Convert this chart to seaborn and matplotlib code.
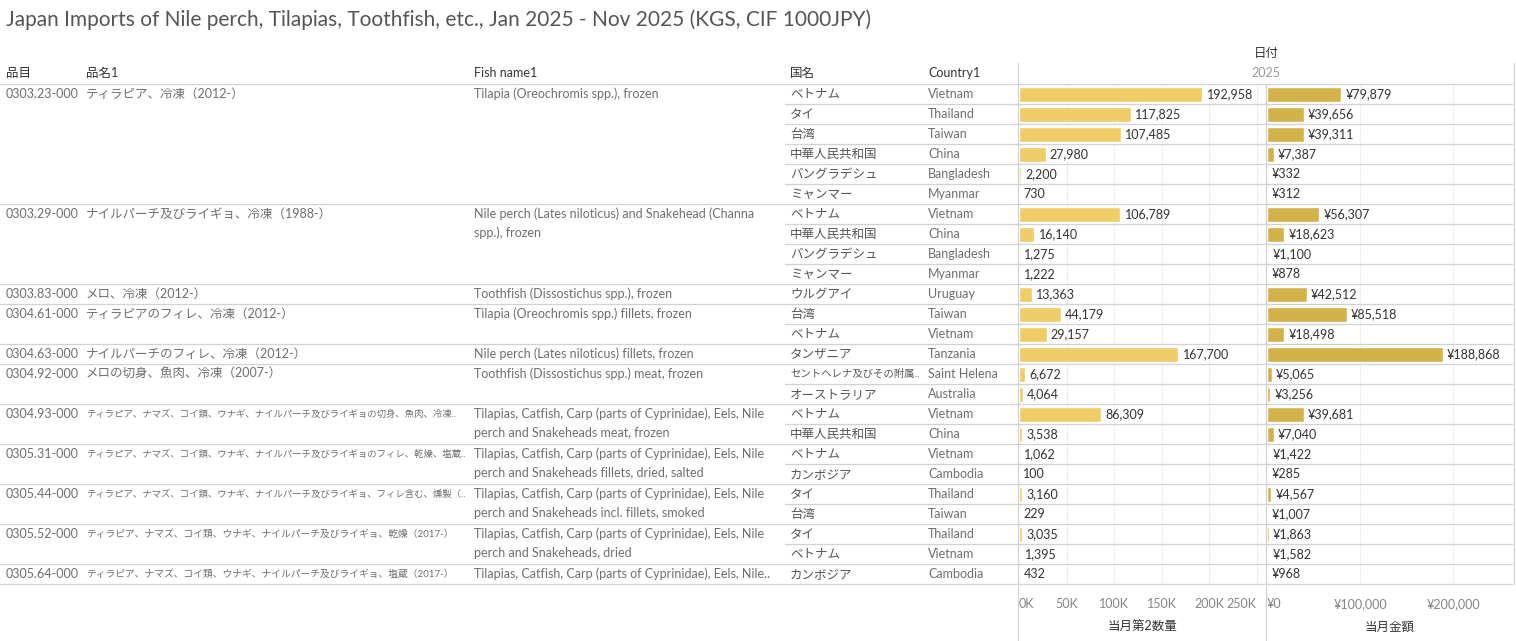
import numpy as np
import pandas as pd
import matplotlib
matplotlib.use("Agg")
import matplotlib.pyplot as plt
import matplotlib.transforms as mtransforms
from matplotlib.lines import Line2D
from matplotlib.ticker import FixedLocator
import seaborn as sns

# --- data -------------------------------------------------------------
hs_codes = ["0303.23-000", "0303.29-000", "0303.83-000", "0304.61-000",
            "0304.63-000", "0304.92-000", "0304.93-000", "0305.31-000",
            "0305.44-000", "0305.52-000", "0305.64-000"]
names_jp = [
    "ティラピア、冷凍（2012-）",
    "ナイルパーチ及びライギョ、冷凍（1988-）",
    "メロ、冷凍（2012-）",
    "ティラピアのフィレ、冷凍（2012-）",
    "ナイルパーチのフィレ、冷凍（2012-）",
    "メロの切身、魚肉、冷凍（2007-）",
    "ティラピア、ナマズ、コイ類、ウナギ、ナイルパーチ及びライギョの切身、魚肉、冷凍..",
    "ティラピア、ナマズ、コイ類、ウナギ、ナイルパーチ及びライギョのフィレ、乾燥、塩蔵..",
    "ティラピア、ナマズ、コイ類、ウナギ、ナイルパーチ及びライギョ、フィレ含む、燻製（..",
    "ティラピア、ナマズ、コイ類、ウナギ、ナイルパーチ及びライギョ、乾燥（2017-）",
    "ティラピア、ナマズ、コイ類、ウナギ、ナイルパーチ及びライギョ、塩蔵（2017-）",
]
names_en = [
    ["Tilapia (Oreochromis spp.), frozen"],
    ["Nile perch (Lates niloticus) and Snakehead (Channa", "spp.), frozen"],
    ["Toothfish (Dissostichus spp.), frozen"],
    ["Tilapia (Oreochromis spp.) fillets, frozen"],
    ["Nile perch (Lates niloticus) fillets, frozen"],
    ["Toothfish (Dissostichus spp.) meat, frozen"],
    ["Tilapias, Catfish, Carp (parts of Cyprinidae), Eels, Nile",
     "perch and Snakeheads meat, frozen"],
    ["Tilapias, Catfish, Carp (parts of Cyprinidae), Eels, Nile",
     "perch and Snakeheads fillets, dried, salted"],
    ["Tilapias, Catfish, Carp (parts of Cyprinidae), Eels, Nile",
     "perch and Snakeheads incl. fillets, smoked"],
    ["Tilapias, Catfish, Carp (parts of Cyprinidae), Eels, Nile",
     "perch and Snakeheads, dried"],
    ["Tilapias, Catfish, Carp (parts of Cyprinidae), Eels, Nile.."],
]

row_codes = ["0303.23-000"] * 6 + ["0303.29-000"] * 4 + ["0303.83-000"] \
    + ["0304.61-000"] * 2 + ["0304.63-000"] + ["0304.92-000"] * 2 \
    + ["0304.93-000"] * 2 + ["0305.31-000"] * 2 + ["0305.44-000"] * 2 \
    + ["0305.52-000"] * 2 + ["0305.64-000"]
countries_jp = ["ベトナム", "タイ", "台湾", "中華人民共和国", "バングラデシュ", "ミャンマー",
                "ベトナム", "中華人民共和国", "バングラデシュ", "ミャンマー",
                "ウルグアイ",
                "台湾", "ベトナム",
                "タンザニア",
                "セントヘレナ及びその附属..", "オーストラリア",
                "ベトナム", "中華人民共和国",
                "ベトナム", "カンボジア",
                "タイ", "台湾",
                "タイ", "ベトナム",
                "カンボジア"]
countries_en = ["Vietnam", "Thailand", "Taiwan", "China", "Bangladesh", "Myanmar",
                "Vietnam", "China", "Bangladesh", "Myanmar",
                "Uruguay",
                "Taiwan", "Vietnam",
                "Tanzania",
                "Saint Helena", "Australia",
                "Vietnam", "China",
                "Vietnam", "Cambodia",
                "Thailand", "Taiwan",
                "Thailand", "Vietnam",
                "Cambodia"]
qty = [192958, 117825, 107485, 27980, 2200, 730,
       106789, 16140, 1275, 1222,
       13363,
       44179, 29157,
       167700,
       6672, 4064,
       86309, 3538,
       1062, 100,
       3160, 229,
       3035, 1395,
       432]
value = [79879, 39656, 39311, 7387, 332, 312,
         56307, 18623, 1100, 878,
         42512,
         85518, 18498,
         188868,
         5065, 3256,
         39681, 7040,
         1422, 285,
         4567, 1007,
         1863, 1582,
         968]

qty_ticks = [0, 50000, 100000, 150000, 200000, 250000]
qty_ticklabels = ["0K", "50K", "100K", "150K", "200K", "250K"]
value_ticks = [0, 100000, 200000]
value_ticklabels = ["¥0", "¥100,000", "¥200,000"]

df = pd.DataFrame({"row": range(len(qty)), "code": row_codes,
                   "country_jp": countries_jp, "country_en": countries_en,
                   "qty": qty, "value": value})

# --- style ------------------------------------------------------------
sns.set_theme(style="white")
plt.rcParams["font.family"] = ["Lato", "Noto Sans CJK JP", "DejaVu Sans"]

BAR1 = "#f1cd67"
BAR2 = "#d4b24a"
HEAD = "#333333"
BODY = "#6e6e6e"
JP_BODY = "#555555"
LINE = "#d2d2d2"
GRID = "#efefef"
FS = 9

W, H = 1516, 641
fig = plt.figure(figsize=(W / 100, H / 100), dpi=100)
fig.patch.set_facecolor("white")
renderer = fig.canvas.get_renderer()

top, bottom = 84, 584
ax1 = fig.add_axes([1019 / W, 1 - bottom / H, 247 / W, (bottom - top) / H])
ax2 = fig.add_axes([1267 / W, 1 - bottom / H, 245 / W, (bottom - top) / H])

n = len(df)
sns.barplot(data=df, x="qty", y="row", orient="h", color=BAR1,
            width=0.75, ax=ax1, saturation=1)
sns.barplot(data=df, x="value", y="row", orient="h", color=BAR2,
            width=0.75, ax=ax2, saturation=1)

ax1.bar_label(ax1.containers[0], labels=[f"{v:,}" for v in df["qty"]],
              padding=3, fontsize=FS, color=HEAD)
ax2.bar_label(ax2.containers[0], labels=[f"¥{v:,}" for v in df["value"]],
              padding=3, fontsize=FS, color=HEAD)

for ax, lim, ticks, labels, title in [
        (ax1, 260000, qty_ticks, qty_ticklabels, "当月第2数量"),
        (ax2, 263000, value_ticks, value_ticklabels, "当月金額")]:
    ax.set_xlim(0, lim)
    ax.set_ylim(n - 0.5, -0.5)
    ax.set_facecolor("none")
    for s in ax.spines.values():
        s.set_visible(False)
    ax.set_yticks([])
    ax.set_ylabel("")
    ax.xaxis.set_major_locator(FixedLocator(ticks))
    ax.set_xticklabels(labels, fontsize=FS, color="#858585")
    ax.tick_params(axis="x", length=0, pad=10)
    ax.grid(axis="x", color=GRID, linewidth=0.8)
    ax.set_axisbelow(True)
    ax.set_xlabel(title, fontsize=FS, color=HEAD, labelpad=8)
    tl = ax.get_xticklabels()
    tl[0].set_ha("left")
    if ax is ax1:
        tl[-1].set_ha("right")

# --- table text -------------------------------------------------------
tr = mtransforms.blended_transform_factory(fig.transFigure, ax1.transData)
col_x = [6 / W, 86 / W, 474 / W, 790 / W, 928 / W]
col_w = [78, 380, 310, 132, 88]


def put(x, y, s, color=BODY, max_px=None, **kw):
    t = fig.text(x, y, s, transform=tr, fontsize=FS, color=color,
                 va="center", ha=kw.pop("ha", "left"), **kw)
    # shrink texts that would run into the next column
    if max_px is not None:
        size = FS
        while t.get_window_extent(renderer).width > max_px and size > 6:
            size -= 0.25
            t.set_fontsize(size)
    return t


for x, h in zip(col_x, ["品目", "品名1", "Fish name1", "国名", "Country1"]):
    put(x, -1.05, h, color=HEAD)
put(1266 / W, -2.05, "日付", color=HEAD, ha="center")
put(1266 / W, -1.05, "2025", color="#999999", ha="center")


def hline(x0, x1, y, color=LINE):
    fig.add_artist(Line2D([x0, x1], [y, y], transform=tr, color=color,
                          linewidth=0.9))


group_start = {}
for i, c in enumerate(row_codes):
    group_start.setdefault(c, i)

for g, code in enumerate(hs_codes):
    r0 = group_start[code]
    put(col_x[0], r0, code)
    put(col_x[1], r0, names_jp[g], max_px=col_w[1])
    for k, line in enumerate(names_en[g]):
        put(col_x[2], r0 + k * 0.93, line, max_px=col_w[2])
    hline(0, 1512 / W, r0 - 0.5)

for i, row in df.iterrows():
    put(col_x[3], i, row["country_jp"], color=JP_BODY, max_px=col_w[3])
    put(col_x[4], i, row["country_en"])
    if i not in group_start.values():
        hline(785 / W, 1512 / W, i - 0.5)
hline(0, 1512 / W, n - 0.5)

for x in (1018 / W, 1266 / W, 1514 / W):
    y0 = -1.55 if x != 1266 / W else -0.5
    y1 = n + 2.9 if x != 1514 / W else n - 0.5
    fig.add_artist(Line2D([x, x], [y0, y1], transform=tr, color=LINE,
                          linewidth=0.9))

fig.text(6 / W, 1 - 20 / H,
         "Japan Imports of Nile perch, Tilapias, Toothfish, etc., "
         "Jan 2025 - Nov 2025 (KGS, CIF 1000JPY)",
         fontsize=15, color="#555555", va="center")

fig.savefig("out.png", dpi=100, facecolor="white")
